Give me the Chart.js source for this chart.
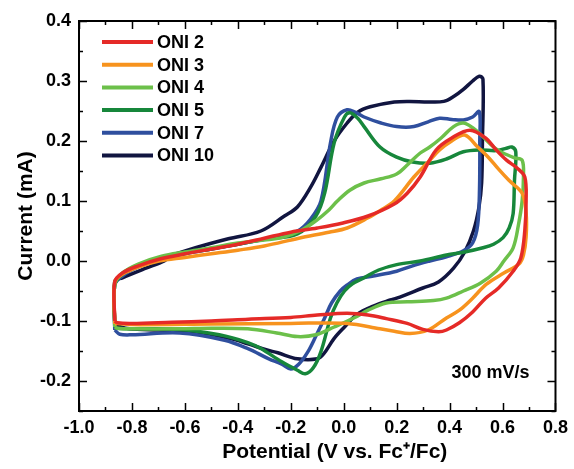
<!DOCTYPE html>
<html>
<head>
<meta charset="utf-8">
<script src="https://cdn.jsdelivr.net/npm/chart.js@4.4.1/dist/chart.umd.min.js"></script>
<style>
  html, body { margin: 0; padding: 0; background: #fff; }
  canvas { display: block; }
</style>
</head>
<body>
<canvas id="cvChart" width="574" height="469"></canvas>
<script>
// labels of the curves
const seriesNames = ['ONI 2', 'ONI 3', 'ONI 4', 'ONI 5', 'ONI 7', 'ONI 10'];
const seriesColors = ['#e52a27', '#f7931e', '#6cc04a', '#17873b', '#2f4f9e', '#111540'];

// tick labels
const xTicks = [-1.0, -0.8, -0.6, -0.4, -0.2, 0.0, 0.2, 0.4, 0.6, 0.8];
const yTicks = [-0.2, -0.1, 0.0, 0.1, 0.2, 0.3, 0.4];

// [potential V, current mA]
const oni2 = [[-0.865,-0.1],[-0.865,-0.035],[-0.836,-0.02],[-0.776,-0.008],[-0.698,0.003],[-0.6,0.012],[-0.5,0.02],[-0.4,0.028],[-0.3,0.038],[-0.2,0.048],[-0.1,0.055],[-0.007,0.063],[0.092,0.075],[0.191,0.095],[0.24,0.113],[0.289,0.14],[0.349,0.185],[0.408,0.205],[0.477,0.218],[0.536,0.205],[0.576,0.185],[0.615,0.168],[0.655,0.155],[0.684,0.14],[0.689,0.1],[0.684,0.05],[0.669,0.005],[0.64,-0.017],[0.585,-0.045],[0.536,-0.062],[0.487,-0.085],[0.437,-0.103],[0.388,-0.115],[0.358,-0.118],[0.299,-0.114],[0.24,-0.104],[0.161,-0.096],[0.092,-0.09],[0.013,-0.087],[-0.1,-0.09],[-0.2,-0.094],[-0.36,-0.097],[-0.5,-0.1],[-0.65,-0.102],[-0.8,-0.104],[-0.855,-0.103],[-0.865,-0.1]];
const oni3 = [[-0.865,-0.105],[-0.865,-0.035],[-0.836,-0.022],[-0.776,-0.01],[-0.698,0.0],[-0.6,0.006],[-0.5,0.012],[-0.4,0.018],[-0.3,0.025],[-0.17,0.038],[-0.056,0.048],[0.013,0.055],[0.092,0.072],[0.137,0.084],[0.191,0.1],[0.265,0.14],[0.319,0.165],[0.362,0.185],[0.408,0.2],[0.457,0.21],[0.506,0.19],[0.546,0.173],[0.585,0.153],[0.625,0.134],[0.674,0.113],[0.689,0.08],[0.689,0.04],[0.679,0.01],[0.662,-0.005],[0.605,-0.02],[0.538,-0.039],[0.487,-0.062],[0.437,-0.082],[0.388,-0.095],[0.319,-0.115],[0.25,-0.121],[0.191,-0.117],[0.137,-0.113],[0.013,-0.104],[-0.2,-0.104],[-0.5,-0.105],[-0.8,-0.106],[-0.855,-0.104],[-0.865,-0.105]];
const oni4 = [[-0.865,-0.11],[-0.865,-0.04],[-0.836,-0.02],[-0.776,-0.005],[-0.688,0.008],[-0.6,0.015],[-0.5,0.022],[-0.4,0.03],[-0.3,0.035],[-0.234,0.039],[-0.165,0.05],[-0.105,0.067],[-0.056,0.085],[-0.024,0.1],[0.023,0.118],[0.077,0.13],[0.141,0.137],[0.2,0.145],[0.24,0.16],[0.289,0.18],[0.325,0.19],[0.368,0.205],[0.415,0.224],[0.452,0.23],[0.487,0.222],[0.526,0.207],[0.566,0.19],[0.602,0.18],[0.645,0.172],[0.674,0.168],[0.679,0.14],[0.674,0.1],[0.66,0.06],[0.64,0.022],[0.605,0.0],[0.576,-0.017],[0.516,-0.037],[0.452,-0.05],[0.388,-0.062],[0.339,-0.066],[0.24,-0.068],[0.161,-0.07],[0.092,-0.082],[0.038,-0.095],[-0.036,-0.11],[-0.105,-0.123],[-0.175,-0.126],[-0.253,-0.12],[-0.362,-0.113],[-0.5,-0.112],[-0.62,-0.113],[-0.8,-0.113],[-0.855,-0.112],[-0.865,-0.11]];
const oni5 = [[-0.865,-0.11],[-0.865,-0.04],[-0.836,-0.022],[-0.776,-0.007],[-0.688,0.006],[-0.6,0.013],[-0.5,0.02],[-0.4,0.028],[-0.3,0.036],[-0.175,0.045],[-0.105,0.075],[-0.072,0.113],[-0.036,0.197],[0.003,0.24],[0.023,0.247],[0.053,0.238],[0.077,0.224],[0.137,0.19],[0.2,0.173],[0.26,0.165],[0.325,0.163],[0.388,0.17],[0.452,0.182],[0.516,0.185],[0.576,0.184],[0.615,0.188],[0.635,0.19],[0.65,0.182],[0.645,0.134],[0.64,0.079],[0.625,0.055],[0.602,0.039],[0.566,0.028],[0.526,0.022],[0.457,0.015],[0.388,0.01],[0.289,0.0],[0.2,-0.006],[0.132,-0.015],[0.077,-0.028],[0.033,-0.038],[0.003,-0.05],[-0.026,-0.07],[-0.05,-0.095],[-0.086,-0.151],[-0.115,-0.178],[-0.145,-0.188],[-0.175,-0.182],[-0.234,-0.168],[-0.313,-0.146],[-0.362,-0.136],[-0.47,-0.123],[-0.62,-0.114],[-0.8,-0.113],[-0.855,-0.112],[-0.865,-0.11]];
const oni7 = [[-0.865,-0.115],[-0.865,-0.04],[-0.836,-0.025],[-0.776,-0.01],[-0.688,0.004],[-0.6,0.012],[-0.5,0.02],[-0.4,0.028],[-0.3,0.036],[-0.175,0.05],[-0.125,0.07],[-0.086,0.1],[-0.05,0.197],[-0.024,0.24],[0.013,0.252],[0.043,0.248],[0.077,0.24],[0.141,0.23],[0.2,0.224],[0.265,0.224],[0.319,0.232],[0.362,0.238],[0.408,0.236],[0.452,0.235],[0.487,0.24],[0.512,0.249],[0.514,0.2],[0.513,0.12],[0.506,0.06],[0.487,0.03],[0.452,0.017],[0.388,0.007],[0.325,0.0],[0.26,-0.008],[0.2,-0.017],[0.112,-0.025],[0.05,-0.03],[0.013,-0.04],[-0.013,-0.05],[-0.046,-0.07],[-0.072,-0.095],[-0.105,-0.125],[-0.135,-0.151],[-0.17,-0.172],[-0.2,-0.18],[-0.234,-0.172],[-0.283,-0.163],[-0.362,-0.146],[-0.45,-0.132],[-0.62,-0.12],[-0.8,-0.123],[-0.846,-0.122],[-0.865,-0.115]];
const oni10 = [[-0.865,-0.106],[-0.865,-0.034],[-0.836,-0.028],[-0.747,-0.012],[-0.678,0.0],[-0.658,0.008],[-0.56,0.022],[-0.436,0.037],[-0.313,0.05],[-0.224,0.075],[-0.175,0.09],[-0.125,0.123],[-0.086,0.156],[-0.036,0.2],[0.013,0.23],[0.053,0.248],[0.1,0.257],[0.191,0.265],[0.25,0.266],[0.319,0.265],[0.378,0.266],[0.418,0.275],[0.452,0.286],[0.487,0.3],[0.512,0.308],[0.526,0.303],[0.524,0.2],[0.521,0.13],[0.511,0.09],[0.49,0.05],[0.457,0.015],[0.415,-0.012],[0.358,-0.035],[0.299,-0.045],[0.2,-0.062],[0.176,-0.065],[0.112,-0.075],[0.05,-0.089],[0.003,-0.11],[-0.036,-0.129],[-0.076,-0.155],[-0.099,-0.163],[-0.175,-0.163],[-0.249,-0.153],[-0.293,-0.148],[-0.362,-0.138],[-0.43,-0.129],[-0.56,-0.118],[-0.7,-0.115],[-0.81,-0.113],[-0.855,-0.108],[-0.865,-0.106]];

const seriesData = [oni2, oni3, oni4, oni5, oni7, oni10];
const scanRate = '300 mV/s';

const FONT = "'Liberation Sans', Arial, sans-serif";

// ticks pointing inwards on all four sides + frame
const frameTicks = {
  id: 'frameTicks',
  afterDraw(chart) {
    const ctx = chart.ctx;
    const a = chart.chartArea;
    const xs = chart.scales.x, ys = chart.scales.y;
    ctx.save();
    ctx.strokeStyle = '#000';
    ctx.lineWidth = 2;
    ctx.strokeRect(a.left, a.top, a.right - a.left, a.bottom - a.top);
    ctx.lineWidth = 1.5;
    ctx.beginPath();
    for (let v = -1.0; v <= 0.8001; v += 0.1) {
      const major = Math.abs(Math.round(v * 10) % 2) === 0;
      const len = major ? 8 : 4;
      const px = Math.round(xs.getPixelForValue(v)) + 0.5;
      ctx.moveTo(px, a.bottom); ctx.lineTo(px, a.bottom - len);
      ctx.moveTo(px, a.top); ctx.lineTo(px, a.top + len);
    }
    for (let v = -0.25; v <= 0.4001; v += 0.05) {
      const major = Math.abs(Math.round(v * 100) % 10) === 0;
      const len = major ? 8 : 4;
      const py = Math.round(ys.getPixelForValue(v)) + 0.5;
      ctx.moveTo(a.left, py); ctx.lineTo(a.left + len, py);
      ctx.moveTo(a.right, py); ctx.lineTo(a.right - len, py);
    }
    ctx.stroke();
    ctx.restore();
  }
};

// legend in the upper left corner and the scan rate note
const cornerText = {
  id: 'cornerText',
  afterDatasetsDraw(chart) {
    const ctx = chart.ctx;
    const a = chart.chartArea;
    ctx.save();
    ctx.font = 'bold 18px ' + FONT;
    ctx.textBaseline = 'middle';
    chart.data.datasets.forEach((ds, i) => {
      const y = a.top + 21 + i * 22.7;
      ctx.strokeStyle = ds.borderColor;
      ctx.lineWidth = 4;
      ctx.beginPath();
      ctx.moveTo(a.left + 23, y);
      ctx.lineTo(a.left + 74, y);
      ctx.stroke();
      ctx.fillStyle = '#000';
      ctx.fillText(ds.label, a.left + 78, y + 1);
    });
    ctx.textAlign = 'right';
    ctx.fillText(scanRate, a.right - 26, a.bottom - 38);
    ctx.restore();
  }
};

const ctx = document.getElementById('cvChart').getContext('2d');
new Chart(ctx, {
  type: 'scatter',
  data: {
    datasets: seriesData.map((pts, i) => ({
      label: seriesNames[i],
      data: pts.map(p => ({ x: p[0], y: p[1] })),
      showLine: true,
      borderColor: seriesColors[i],
      borderWidth: 3.5,
      pointRadius: 0,
      tension: 0.35,
      fill: false
    }))
  },
  options: {
    responsive: false,
    animation: false,
    devicePixelRatio: 1,
    layout: { padding: { top: 21, right: 13, left: 0, bottom: 0 } },
    plugins: { legend: { display: false }, tooltip: { enabled: false } },
    scales: {
      x: {
        type: 'linear',
        min: -1.0,
        max: 0.8,
        afterBuildTicks: s => { s.ticks = xTicks.map(v => ({ value: v })); },
        afterFit: s => { s.height = 58; },
        grid: { display: false, drawTicks: false },
        border: { display: false },
        ticks: {
          color: '#000',
          padding: 6,
          font: { family: FONT, size: 18, weight: 'bold' },
          callback: v => v.toFixed(1)
        },
        title: {
          display: true,
          text: '      Potential (V vs. Fc\u207A/Fc)',
          color: '#000',
          padding: 4,
          font: { family: FONT, size: 21, weight: 'bold' }
        }
      },
      y: {
        type: 'linear',
        min: -0.25,
        max: 0.4,
        afterBuildTicks: s => { s.ticks = yTicks.map(v => ({ value: v })); },
        afterFit: s => { s.width = 79; },
        grid: { display: false, drawTicks: false },
        border: { display: false },
        ticks: {
          color: '#000',
          padding: 8,
          font: { family: FONT, size: 18, weight: 'bold' },
          callback: v => v.toFixed(1)
        },
        title: {
          display: true,
          text: 'Current (mA)',
          color: '#000',
          padding: { top: 14, bottom: 0 },
          font: { family: FONT, size: 21, weight: 'bold' }
        }
      }
    }
  },
  plugins: [frameTicks, cornerText]
});
</script>
</body>
</html>
